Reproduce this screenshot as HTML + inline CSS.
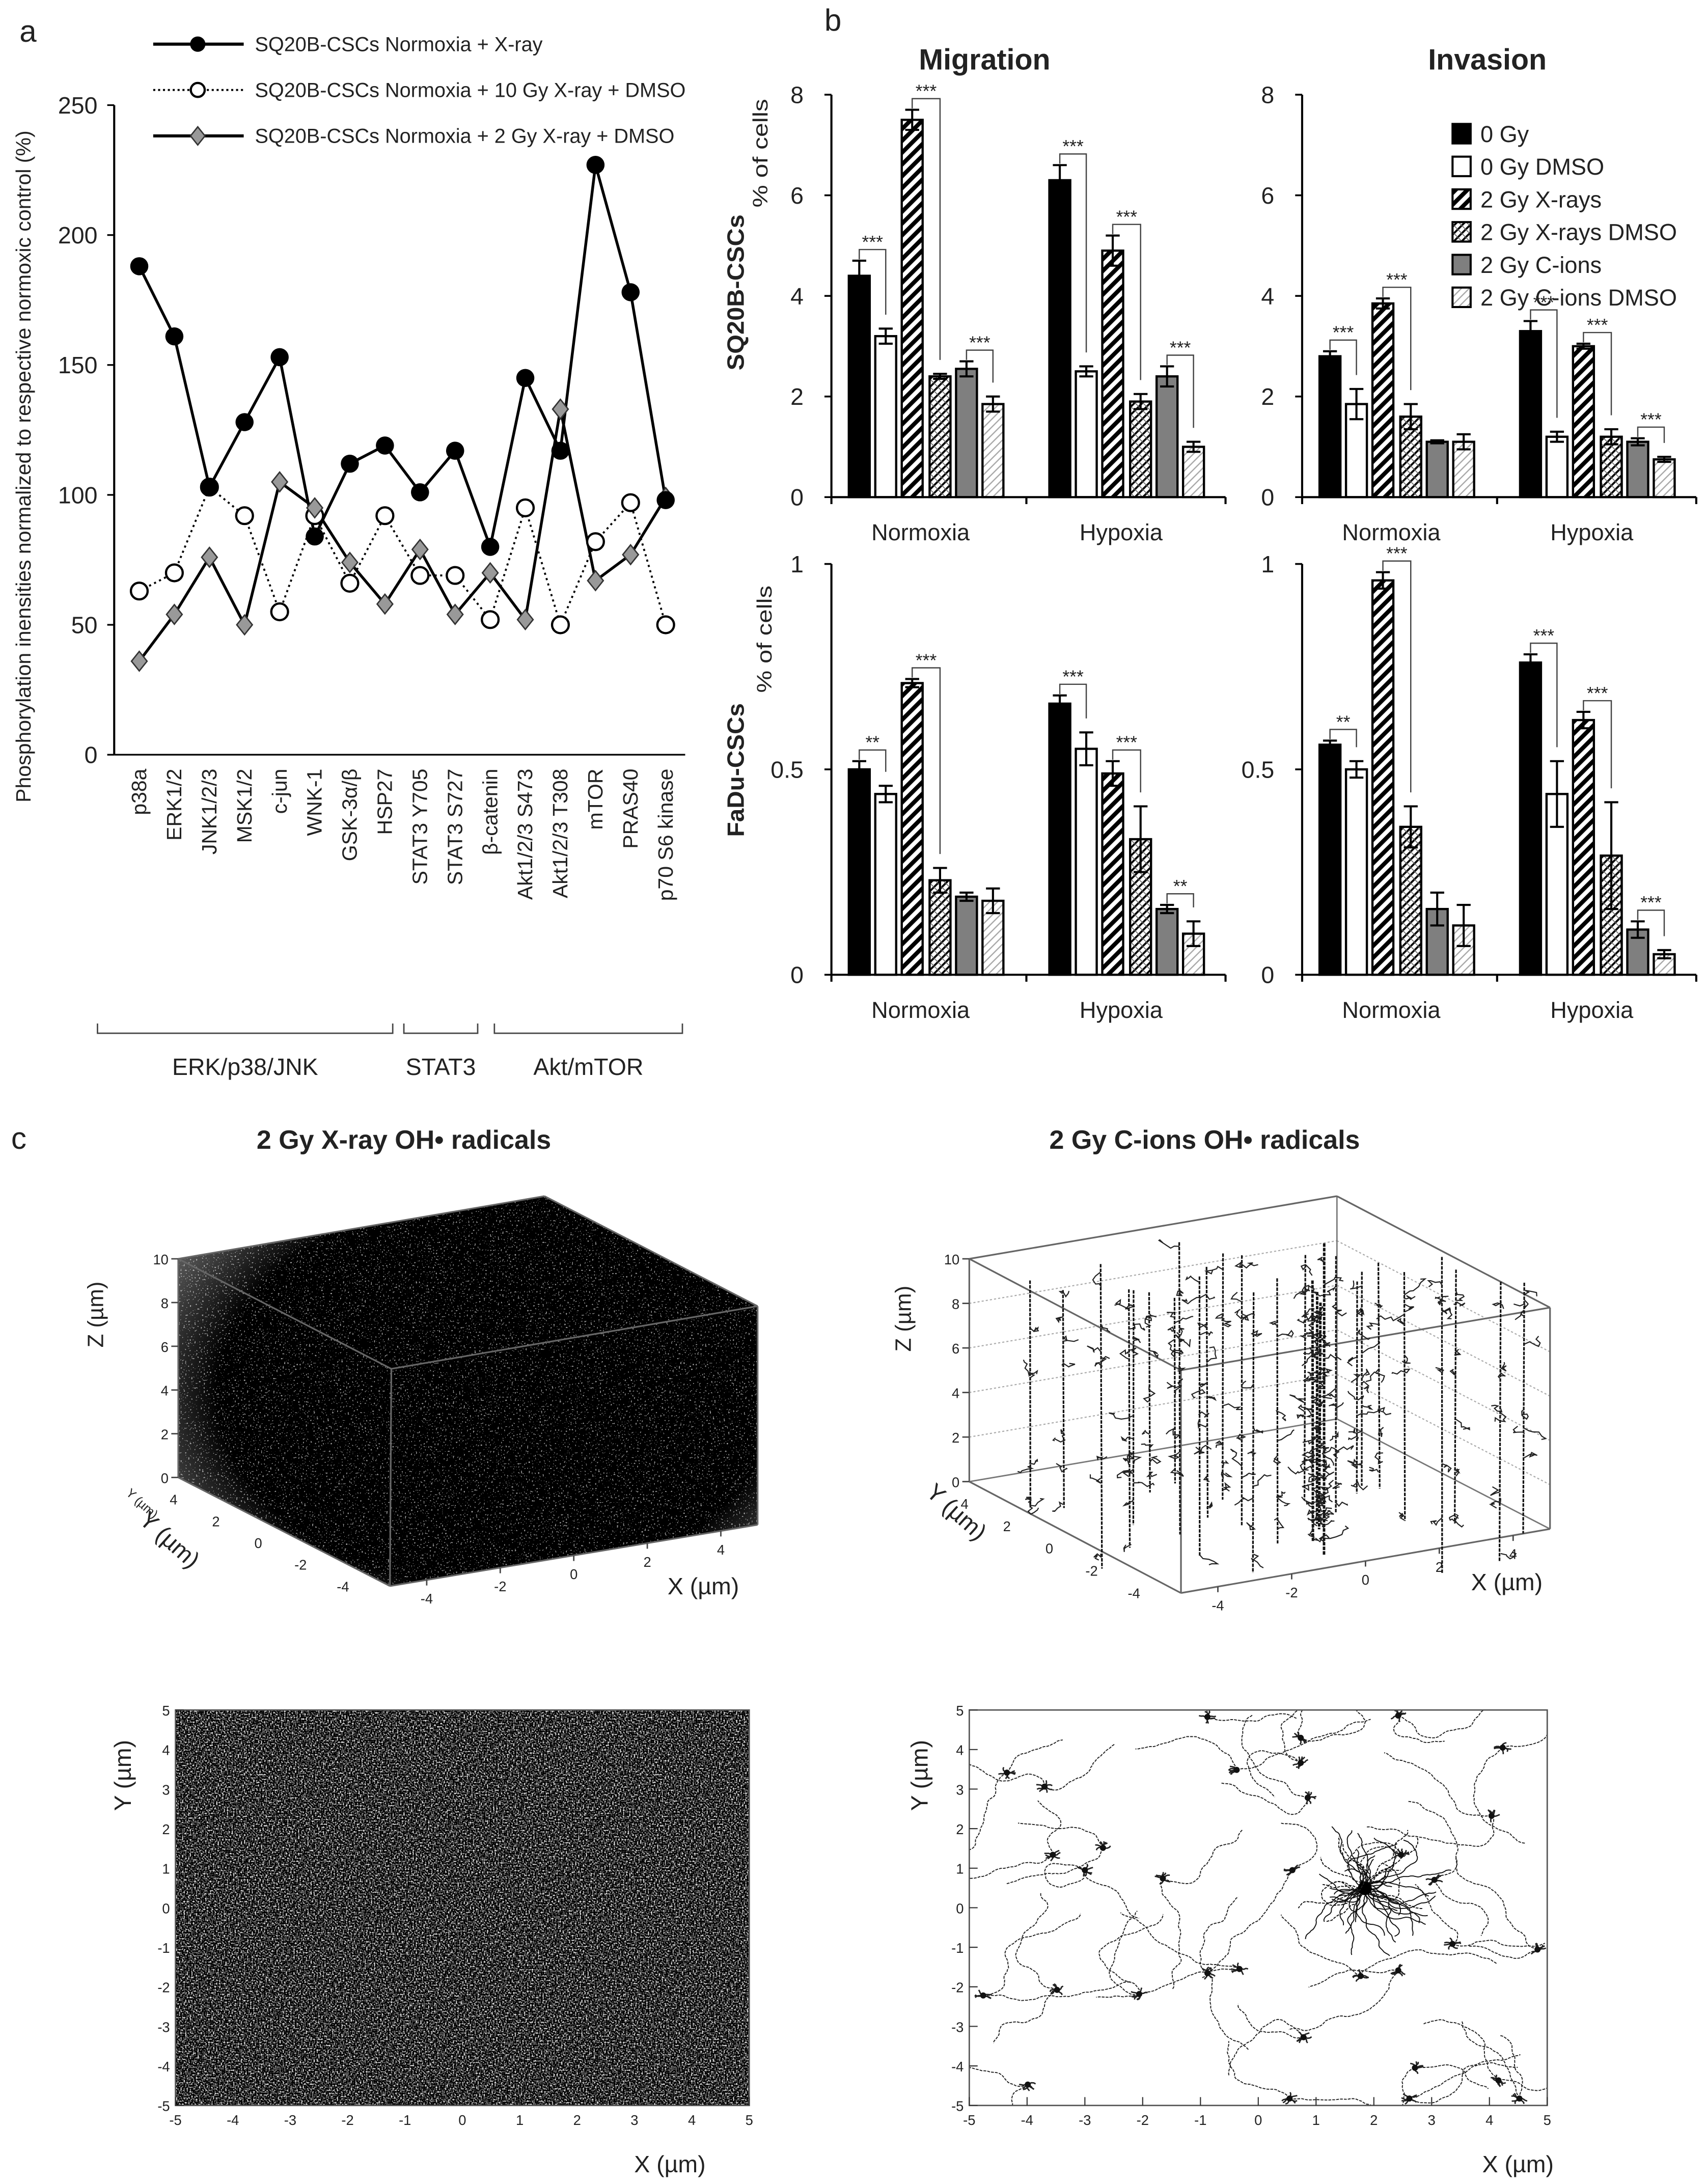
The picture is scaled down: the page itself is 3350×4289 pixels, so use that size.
<!DOCTYPE html>
<html><head><meta charset="utf-8"><style>
html,body{margin:0;padding:0;background:#fff;}
svg{display:block;}
text{font-family:"Liberation Sans",sans-serif;fill:#222;}
</style></head><body>
<svg id="fig" xmlns="http://www.w3.org/2000/svg" width="3350" height="4289" viewBox="0 0 1225 1568.4" preserveAspectRatio="none">
<defs>
<pattern id="pX" patternUnits="userSpaceOnUse" width="6" height="6" patternTransform="rotate(45)"><rect width="6" height="6" fill="#fff"/><rect width="3" height="6" fill="#000"/></pattern>
<pattern id="pXd" patternUnits="userSpaceOnUse" width="4" height="4" patternTransform="rotate(45)"><rect width="4" height="4" fill="#fff"/><rect width="1.4" height="4" fill="#000"/><rect y="0" width="4" height="0.6" fill="#666"/></pattern>
<pattern id="pCd" patternUnits="userSpaceOnUse" width="4" height="4" patternTransform="rotate(45)"><rect width="4" height="4" fill="#fff"/><rect width="0.9" height="4" fill="#aaa"/></pattern>
<filter id="noiseL" x="0" y="0" width="1" height="1" filterUnits="objectBoundingBox">
<feTurbulence type="fractalNoise" baseFrequency="0.9" numOctaves="1" seed="3"/>
<feColorMatrix type="matrix" values="1 0 0 0 0 1 0 0 0 0 1 0 0 0 0 0 0 0 0 1"/>
<feComponentTransfer><feFuncR type="discrete" tableValues="0 0 0 0.12 0.8 1"/><feFuncG type="discrete" tableValues="0 0 0 0.12 0.8 1"/><feFuncB type="discrete" tableValues="0 0 0 0.12 0.8 1"/></feComponentTransfer>
</filter>
<filter id="noiseC" x="0" y="0" width="1" height="1" filterUnits="objectBoundingBox">
<feTurbulence type="fractalNoise" baseFrequency="0.9" numOctaves="1" seed="7"/>
<feColorMatrix type="matrix" values="1 0 0 0 0 1 0 0 0 0 1 0 0 0 0 0 0 0 0 1"/>
<feComponentTransfer><feFuncR type="discrete" tableValues="0 0 0 0 0.3 0.9"/><feFuncG type="discrete" tableValues="0 0 0 0 0.3 0.9"/><feFuncB type="discrete" tableValues="0 0 0 0 0.3 0.9"/></feComponentTransfer>
</filter>
<radialGradient id="cubeFade" cx="0.55" cy="0.5" r="0.62">
<stop offset="0.75" stop-color="#fff" stop-opacity="0"/><stop offset="1" stop-color="#fff" stop-opacity="0.35"/>
</radialGradient>
<clipPath id="cubeClip"><polygon points="128,904 391,859 544,938 544,1095 280,1139 128,1061"/></clipPath>
<clipPath id="brClip"><rect x="696" y="1228" width="415" height="284"/></clipPath>
</defs>

<text x="14" y="30" font-size="22">a</text>
<text x="592" y="22" font-size="22">b</text>
<text x="8" y="825" font-size="22">c</text>

<g id="panelA"></g>
<g id="panelB"></g>
<g id="panelC">
  <text x="290" y="825" font-size="19" font-weight="bold" text-anchor="middle">2 Gy X-ray OH• radicals</text>
  <text x="865" y="825" font-size="19" font-weight="bold" text-anchor="middle">2 Gy C-ions OH• radicals</text>
  <g>
    <rect x="120" y="850" width="430" height="300" fill="#000" filter="url(#noiseC)" clip-path="url(#cubeClip)"/>
    <rect x="120" y="850" width="430" height="300" fill="url(#cubeFade)" clip-path="url(#cubeClip)"/>
  </g>
  <g>
    <rect x="126" y="1228" width="412" height="284" fill="#000" filter="url(#noiseL)"/>
  </g>
  <g id="cube3d"></g>
  <g id="tracks3d"></g>
  <g id="tracks2d" clip-path="url(#brClip)"></g>
  <g id="frames2d"></g>
</g>
</svg>
<script>
// ---------- Panel a data ----------
const catsA = ["p38a","ERK1/2","JNK1/2/3","MSK1/2","c-jun","WNK-1","GSK-3\u03b1/\u03b2","HSP27","STAT3 Y705","STAT3 S727","\u03b2-catenin","Akt1/2/3 S473","Akt1/2/3 T308","mTOR","PRAS40","p70 S6 kinase"];
const seriesXray = [188,161,103,128,153,84,112,119,101,117,80,145,117,227,178,98];
const series10GyDmso = [63,70,103,92,55,92,66,92,69,69,52,95,50,82,97,50];
const series2GyDmso = [36,54,76,50,105,95,74,58,79,54,70,52,133,67,77,99];
const ticksA = [0,50,100,150,200,250];
const legendA = ["SQ20B-CSCs Normoxia + X-ray","SQ20B-CSCs Normoxia + 10 Gy X-ray + DMSO","SQ20B-CSCs Normoxia + 2 Gy X-ray + DMSO"];

// ---------- Panel b data ----------
const barNames = ["0 Gy","0 Gy DMSO","2 Gy X-rays","2 Gy X-rays DMSO","2 Gy C-ions","2 Gy C-ions DMSO"];
const groupNames = ["Normoxia","Hypoxia"];
const migSQ_N = [4.4,3.2,7.5,2.4,2.55,1.85];
const migSQ_Nerr = [0.3,0.15,0.2,0.05,0.15,0.15];
const migSQ_H = [6.3,2.5,4.9,1.9,2.4,1.0];
const migSQ_Herr = [0.3,0.1,0.3,0.15,0.2,0.1];
const invSQ_N = [2.8,1.85,3.85,1.6,1.1,1.1];
const invSQ_Nerr = [0.1,0.3,0.1,0.25,0.03,0.15];
const invSQ_H = [3.3,1.2,3.0,1.2,1.1,0.75];
const invSQ_Herr = [0.2,0.1,0.05,0.15,0.07,0.05];
const migFa_N = [0.50,0.44,0.71,0.23,0.19,0.18];
const migFa_Nerr = [0.02,0.02,0.01,0.03,0.01,0.03];
const migFa_H = [0.66,0.55,0.49,0.33,0.16,0.10];
const migFa_Herr = [0.02,0.04,0.03,0.08,0.01,0.03];
const invFa_N = [0.56,0.50,0.96,0.36,0.16,0.12];
const invFa_Nerr = [0.01,0.02,0.02,0.05,0.04,0.05];
const invFa_H = [0.76,0.44,0.62,0.29,0.11,0.05];
const invFa_Herr = [0.02,0.08,0.02,0.13,0.02,0.01];
const starsMigSQ = [[0,0,1,"***"],[0,2,3,"***"],[0,4,5,"***"],[1,0,1,"***"],[1,2,3,"***"],[1,4,5,"***"]];
const starsInvSQ = [[0,0,1,"***"],[0,2,3,"***"],[1,0,1,"***"],[1,2,3,"***"],[1,4,5,"***"]];
const starsMigFa = [[0,0,1,"**"],[0,2,3,"***"],[1,0,1,"***"],[1,2,3,"***"],[1,4,5,"**"]];
const starsInvFa = [[0,0,1,"**"],[0,2,3,"***"],[1,0,1,"***"],[1,2,3,"***"],[1,4,5,"***"]];
const ticksSQ = [0,2,4,6,8];
const ticksFa = [0,0.5,1];
const ticksFaLabels = ["0","0.5","1"];

const NS = "http://www.w3.org/2000/svg";
function mk(tag, parent, attrs){const e=document.createElementNS(NS,tag);for(const k in attrs)e.setAttribute(k,attrs[k]);parent.appendChild(e);return e;}

// ================= Panel A =================
(function(){
  const g = document.getElementById('panelA');
  const x0=82, yBase=542, yTop=75.5, xStart=100, dx=25.2;
  const yA = v => yBase - v*(yBase-yTop)/250;
  const xA = i => xStart + i*dx;
  let e = mk('line', g, {x1:x0,y1:yTop,x2:x0,y2:yBase,stroke:'#000','stroke-width':1.5});
  
  
  e = mk('line', g, {x1:x0,y1:yBase,x2:492,y2:yBase,stroke:'#000','stroke-width':1.2});
  
  
  ticksA.forEach(t=>{
    const tk = mk('line', g, {x1:x0-5,y1:yA(t),x2:x0,y2:yA(t),stroke:'#000','stroke-width':1.2});
    
    
    const tl = mk('text', g, {x:x0-12,y:yA(t)+6,'font-size':17,'text-anchor':'end'});
    tl.textContent = t;
    
    
  });
  const yt = mk('text', g, {x:0,y:0,'font-size':15,'text-anchor':'middle',transform:'translate(22,335) rotate(-90)'});
  yt.textContent = 'Phosphorylation inensities normalized to respective normoxic control (%)';
  
  
  catsA.forEach((c,i)=>{
    const t = mk('text', g, {x:0,y:0,'font-size':15,'text-anchor':'end',transform:`translate(${xA(i)+5},552) rotate(-90)`});
    t.textContent = c;
    
    
  });
  const brackets = [[70,282,"ERK/p38/JNK"],[290,343,"STAT3"],[355,490,"Akt/mTOR"]];
  brackets.forEach(b=>{
    const p = mk('path', g, {d:`M${b[0]},735 V742 H${b[1]} V735`,fill:'none',stroke:'#444','stroke-width':1});
    
    
    const t = mk('text', g, {x:(b[0]+b[1])/2,y:772,'font-size':17,'text-anchor':'middle'});
    t.textContent = b[2];
    
    
  });
  function lineOf(vals, dash){
    const pts = vals.map((v,i)=>`${xA(i)},${yA(v)}`).join(' ');
    const a = {points:pts,fill:'none',stroke:'#000','stroke-width':dash?1.4:2};
    if(dash) a['stroke-dasharray']='1.5 2.5';
    return mk('polyline', g, a);
  }
  let l = lineOf(series10GyDmso, true);
  
  
  l = lineOf(series2GyDmso, false);
  
  
  l = lineOf(seriesXray, false);
  
  
  function diamond(x,y,r){return `${x},${y-r} ${x+r*0.8},${y} ${x},${y+r} ${x-r*0.8},${y}`;}
  series10GyDmso.forEach((v,i)=>{
    const c = mk('circle', g, {cx:xA(i),cy:yA(v),r:6,fill:'#fff',stroke:'#000','stroke-width':1.6});
    
    
  });
  series2GyDmso.forEach((v,i)=>{
    const c = mk('polygon', g, {points:diamond(xA(i),yA(v),7),fill:'#999',stroke:'#333','stroke-width':1});
    
    
  });
  seriesXray.forEach((v,i)=>{
    const c = mk('circle', g, {cx:xA(i),cy:yA(v),r:6.5,fill:'#000'});
    
    
  });
  const ly=[31.7,64.6,97.6];
  legendA.forEach((name,k)=>{
    const a={x1:110,y1:ly[k],x2:175,y2:ly[k],stroke:'#000','stroke-width':k==1?1.4:2.2};
    if(k==1) a['stroke-dasharray']='1.5 2';
    const ln = mk('line', g, a);
    
    
    let m;
    if(k==0) m = mk('circle', g, {cx:142,cy:ly[k],r:5.5,fill:'#000'});
    else if(k==1) m = mk('circle', g, {cx:142,cy:ly[k],r:5,fill:'#fff',stroke:'#000','stroke-width':1.6});
    else m = mk('polygon', g, {points:diamond(142,ly[k],6.5),fill:'#999',stroke:'#333','stroke-width':1});
    
    
    const t = mk('text', g, {x:183,y:ly[k]+5,'font-size':14.5});
    t.textContent = name;
    
    
  });
})();

// ================= Panel B =================
const fills = ['#000','#fff','url(#pX)','url(#pXd)','#7f7f7f','url(#pCd)'];
function barChart(name, xAxis, yZero, yMaxPix, vmax, ticks, tickLabels, valsN, errN, valsH, errH, stars){
  const root = document.getElementById('panelB');
  const g = mk('g', root, {});
  
  
  const y = v => yZero - v*(yZero-yMaxPix)/vmax;
  const groupCenters = [xAxis+68, xAxis+212];
  const off = [-48,-29,-10,10,29,48];
  const bw = 15;
  const bx = (gi,bi) => groupCenters[gi]+off[bi];
  let e = mk('line', g, {x1:xAxis,y1:yMaxPix,x2:xAxis,y2:yZero,stroke:'#000','stroke-width':1.5});
  
  
  e = mk('line', g, {x1:xAxis,y1:yZero,x2:xAxis+283,y2:yZero,stroke:'#000','stroke-width':1.5});
  
  
  [xAxis, xAxis+140, xAxis+283].forEach(xx=>{
    const t = mk('line', g, {x1:xx,y1:yZero,x2:xx,y2:yZero+5,stroke:'#000','stroke-width':1.5});
    
    
  });
  ticks.forEach((t,i)=>{
    const tk = mk('line', g, {x1:xAxis-5,y1:y(t),x2:xAxis,y2:y(t),stroke:'#000','stroke-width':1.3});
    
    
    const tl = mk('text', g, {x:xAxis-20,y:y(t)+6,'font-size':17,'text-anchor':'end'});
    tl.textContent = tickLabels[i];
    
    
  });
  groupNames.forEach((gn,gi)=>{
    const t = mk('text', g, {x:groupCenters[gi]-4,y:yZero+31,'font-size':16.5,'text-anchor':'middle'});
    t.textContent = gn;
    
    
  });
  const V=[valsN,valsH], E=[errN,errH];
  for(let gi=0;gi<2;gi++){
    for(let bi=0;bi<6;bi++){
      const v=V[gi][bi], er=E[gi][bi], cx=bx(gi,bi);
      const r = mk('rect', g, {x:cx-bw/2,y:y(v),width:bw,height:yZero-y(v),fill:fills[bi],stroke:'#000','stroke-width':1.6});
      
      
      const eb = mk('path', g, {d:`M${cx},${y(v-er)} V${y(v+er)} M${cx-5},${y(v+er)} H${cx+5} M${cx-5},${y(v-er)} H${cx+5}`,stroke:'#000','stroke-width':1.5,fill:'none'});
      
      
    }
  }
  stars.forEach(s=>{
    const gi=s[0], a=s[1], b=s[2];
    const xa=bx(gi,a), xb=bx(gi,b);
    const ta=y(V[gi][a]+E[gi][a]), tb=y(V[gi][b]+E[gi][b]);
    const ly = Math.min(ta,tb)-8;
    const p = mk('path', g, {d:`M${xa},${ta-1} V${ly} H${xb} V${tb-10}`,fill:'none',stroke:'#444','stroke-width':0.9});
    
    
    const t = mk('text', g, {x:(xa+xb)/2,y:ly-1,'font-size':13,'text-anchor':'middle',fill:'#555'});
    t.textContent = s[3];
    
    
  });
}
barChart('migration-sq20b-chart',597,357,68,8,ticksSQ,ticksSQ,migSQ_N,migSQ_Nerr,migSQ_H,migSQ_Herr,starsMigSQ);
barChart('invasion-sq20b-chart',935,357,68,8,ticksSQ,ticksSQ,invSQ_N,invSQ_Nerr,invSQ_H,invSQ_Herr,starsInvSQ);
barChart('migration-fadu-chart',597,700,405,1,ticksFa,ticksFaLabels,migFa_N,migFa_Nerr,migFa_H,migFa_Herr,starsMigFa);
barChart('invasion-fadu-chart',935,700,405,1,ticksFa,ticksFaLabels,invFa_N,invFa_Nerr,invFa_H,invFa_Herr,starsInvFa);
(function(){
  const g=document.getElementById('panelB');
  let t=mk('text',g,{x:707,y:50,'font-size':21,'font-weight':'bold','text-anchor':'middle'});
  t.textContent='Migration';
  
  
  t=mk('text',g,{x:1068,y:50,'font-size':21,'font-weight':'bold','text-anchor':'middle'});
  t.textContent='Invasion';
  
  
  t=mk('text',g,{x:0,y:0,'font-size':17,'font-weight':'bold','text-anchor':'middle',textLength:112,lengthAdjust:'spacingAndGlyphs',transform:'translate(534,210) rotate(-90)'});
  t.textContent='SQ20B-CSCs';
  
  
  t=mk('text',g,{x:0,y:0,'font-size':15,'text-anchor':'middle',textLength:78,lengthAdjust:'spacingAndGlyphs',transform:'translate(551,110) rotate(-90)'});
  t.textContent='% of cells';
  
  
  t=mk('text',g,{x:0,y:0,'font-size':17,'font-weight':'bold','text-anchor':'middle',textLength:96,lengthAdjust:'spacingAndGlyphs',transform:'translate(534,553) rotate(-90)'});
  t.textContent='FaDu-CSCs';
  
  
  t=mk('text',g,{x:0,y:0,'font-size':15,'text-anchor':'middle',textLength:77,lengthAdjust:'spacingAndGlyphs',transform:'translate(554,459) rotate(-90)'});
  t.textContent='% of cells';
  
  
  barNames.forEach((n,i)=>{
    const yy=89+i*23.5;
    const r=mk('rect',g,{x:1043,y:yy,width:13,height:14,fill:fills[i],stroke:'#000','stroke-width':1.5});
    
    
    const tx=mk('text',g,{x:1063,y:yy+13,'font-size':16.5});
    tx.textContent=n;
    
    
  });
})();

// ================= Panel C =================
let seed=12345;
function rnd(){seed=(seed*1103515245+12345)%2147483648;return seed/2147483648;}
function cube(g, P, faintBack){
  const [A,B,C,D,A0,D0,C0,B0]=P;
  const L=(p,q,w,col,dash)=>{const a={x1:p[0],y1:p[1],x2:q[0],y2:q[1],stroke:col||'#555','stroke-width':w||1};if(dash)a['stroke-dasharray']=dash;return mk('line',g,a);};
  let e;
  if(faintBack){
    for(let z=0;z<=10;z+=2){
      const f=z/10;
      const a=[A0[0],A0[1]+(A[1]-A0[1])*f], b=[B0[0],B0[1]+(B[1]-B0[1])*f], c=[C0[0],C0[1]+(C[1]-C0[1])*f];
      e=L(a,b,0.8,'#aaa','1.5 1.5');
      
      
      e=L(b,c,0.8,'#aaa','1.5 1.5');
      
      
    }
    e=L(A0,B0,1,'#777');
    e=L(B0,C0,1,'#777');
    e=L(B,B0,1,'#777');
  }
  [[A,B],[B,C],[C,D],[D,A],[A,A0],[C,C0],[D,D0],[A0,D0],[D0,C0]].forEach(pq=>{
    e=L(pq[0],pq[1],1.2,'#666');
    
    
  });
  for(let z=0;z<=10;z+=2){
    const yy=A0[1]+(A[1]-A0[1])*z/10;
    e=L([A[0]-5,yy],[A[0],yy],1,'#444');
    
    
    const t=mk('text',g,{x:A[0]-7,y:yy+4,'font-size':10,'text-anchor':'end'});
    t.textContent=z;
    
    
  }
  [4,2,0,-2,-4].forEach(v=>{
    const f=(4.5-v)/9.5*0.95+0.02;
    const px=A0[0]+(D0[0]-A0[0])*f, py=A0[1]+(D0[1]-A0[1])*f;
    const t=mk('text',g,{x:px-14,y:py+14,'font-size':10,'text-anchor':'middle'});
    t.textContent=v;
    
    
  });
  [-4,-2,0,2,4].forEach(v=>{
    const f=(v+5)/10;
    const px=D0[0]+(C0[0]-D0[0])*f, py=D0[1]+(C0[1]-D0[1])*f;
    e=L([px,py],[px,py+4],1,'#444');
    
    
    const t=mk('text',g,{x:px,y:py+17,'font-size':10,'text-anchor':'middle'});
    t.textContent=v;
    
    
  });
}
(function(){
  const g=document.getElementById('cube3d');
  const PL=[[128,904],[391,859],[544,938],[281,983],[128,1061],[280,1139],[544,1095],[391,1016]];
  const PR=[[696,904],[960,859],[1113,939],[848,984],[696,1064],[848,1144],[1113,1098],[960,1019]];
  cube(g,PL,false);
  cube(g,PR,true);
  const labs=[[74,944,-90,'Z (\u00b5m)',16],[654,947,-90,'Z (\u00b5m)',16],[118,1110,42,'Y (\u00b5m)',17],[683,1090,42,'Y (\u00b5m)',17],[100,1082,42,'Y (\u00b5m)',9]];
  labs.forEach(l=>{
    const t=mk('text',g,{x:0,y:0,'font-size':l[4],'text-anchor':'middle',transform:`translate(${l[0]},${l[1]}) rotate(${l[2]})`});
    t.textContent=l[3];
    
    
  });
  [[505,1145],[1082,1142]].forEach(p=>{
    const t=mk('text',g,{x:p[0],y:p[1],'font-size':17,'text-anchor':'middle'});
    t.textContent='X (\u00b5m)';
    
    
  });
})();
(function(){
  const g=document.getElementById('tracks3d');
  const zx=[295,365,445,505,515,548,602,612,655,670,705,745,770,820,880,895,905,912,920,945,990,1000,1035,1090,1170,1200,1295,1345];
  zx.forEach((z,i)=>{
    const x=639.9+z*0.338;
    const top=841+(230+rnd()*220)*0.21, bot=841+(1050+rnd()*330)*0.21;
    const dense=(z>=895 && z<=920);
    const p=mk('line',g,{x1:x,y1:top,x2:x+(rnd()-0.5)*2,y2:bot,stroke:'#111','stroke-width':dense?1.8:1.2,'stroke-dasharray':'2.5 0.8'});
    
    
    const nb=dense?18:8;
    for(let k=0;k<nb;k++){
      let px=x, py=top+rnd()*(bot-top); let d=`M${px},${py}`;
      for(let s=0;s<6;s++){px+=(rnd()-0.5)*9;py+=(rnd()-0.5)*6;d+=` L${px.toFixed(1)},${py.toFixed(1)}`;}
      const b=mk('path',g,{d:d,fill:'none',stroke:'#222','stroke-width':0.8});
      
      
    }
  });
})();
(function(){
  const g=document.getElementById('tracks2d');
  const centers=[[723,1273],[750,1283],[888,1271],[934,1248],[934,1266],[939,1291],[1004,1232],[1079,1255],[1071,1304],[792,1327],[756,1332],[779,1343],[835,1349],[1006,1332],[1030,1350],[928,1343],[1043,1396],[1104,1400],[890,1414],[867,1417],[818,1432],[759,1429],[706,1433],[977,1419],[1004,1415],[936,1463],[1016,1485],[1076,1494],[738,1497],[926,1507],[1012,1507],[1091,1507],[867,1233]];
  const main=[980,1356];
  for(let w=0;w<55;w++){
    let x=main[0]+(rnd()-0.5)*6,y=main[1]+(rnd()-0.5)*6; let d=`M${x.toFixed(1)},${y.toFixed(1)}`;
    let ang=rnd()*6.28; const n=10+Math.floor(rnd()*30);
    for(let s=0;s<n;s++){ang+=(rnd()-0.5)*0.9;x+=Math.cos(ang)*1.8;y+=Math.sin(ang)*1.4;d+=` L${x.toFixed(1)},${y.toFixed(1)}`;}
    const p=mk('path',g,{d:d,fill:'none',stroke:'#111','stroke-width':0.7,'stroke-dasharray':w<15?'2 0.8':'none'});
    
    
  }
  const mb=mk('circle',g,{cx:main[0],cy:main[1],r:5,fill:'#000'});
  
  
  centers.forEach((c,ci)=>{
    for(let w=0;w<9;w++){
      let x=c[0],y=c[1]; let d=`M${x},${y}`;
      const long=(w<2);
      const n=long?25+Math.floor(rnd()*35):4;
      let ang=rnd()*6.28;
      for(let s=0;s<n;s++){ang+=(rnd()-0.5)*(long?0.8:1.4);x+=Math.cos(ang)*(long?2.2:1.6);y+=Math.sin(ang)*(long?1.6:1.2);d+=` L${x.toFixed(1)},${y.toFixed(1)}`;}
      const p=mk('path',g,{d:d,fill:'none',stroke:'#222','stroke-width':long?0.7:1,'stroke-dasharray':long?'2 0.8':'none'});
      
      
    }
    const blob=mk('circle',g,{cx:c[0],cy:c[1],r:2.2,fill:'#111'});
    
    
  });
})();
(function(){
  const g=document.getElementById('frames2d');
  [[126,538,'xray',88,481],[696,1111,'cions',660,1090]].forEach(f=>{
    const x0=f[0],x1=f[1],y0=1228,y1=1512;
    const r=mk('rect',g,{x:x0,y:y0,width:x1-x0,height:y1-y0,fill:'none',stroke:'#555','stroke-width':1});
    
    
    for(let v=-5;v<=5;v++){
      const px=x0+(v+5)/10*(x1-x0), py=y1-(v+5)/10*(y1-y0);
      let t=mk('line',g,{x1:px,y1:y1,x2:px,y2:y1-6,stroke:'#333','stroke-width':0.8});
      
      
      t=mk('line',g,{x1:x0,y1:py,x2:x0+6,y2:py,stroke:'#333','stroke-width':0.8});
      
      
      t=mk('text',g,{x:px,y:y1+14,'font-size':10,'text-anchor':'middle'});
      t.textContent=v;
      
      
      t=mk('text',g,{x:x0-4,y:py+4,'font-size':10,'text-anchor':'end'});
      t.textContent=v;
      
      
    }
    let t=mk('text',g,{x:f[4],y:1560,'font-size':17,'text-anchor':'middle'});
    t.textContent='X (\u00b5m)';
    
    
    t=mk('text',g,{x:0,y:0,'font-size':17,'text-anchor':'middle',transform:`translate(${f[3]+6},1275) rotate(-90)`});
    t.textContent='Y (\u00b5m)';
    
    
  });
})();
</script>
</body></html>
